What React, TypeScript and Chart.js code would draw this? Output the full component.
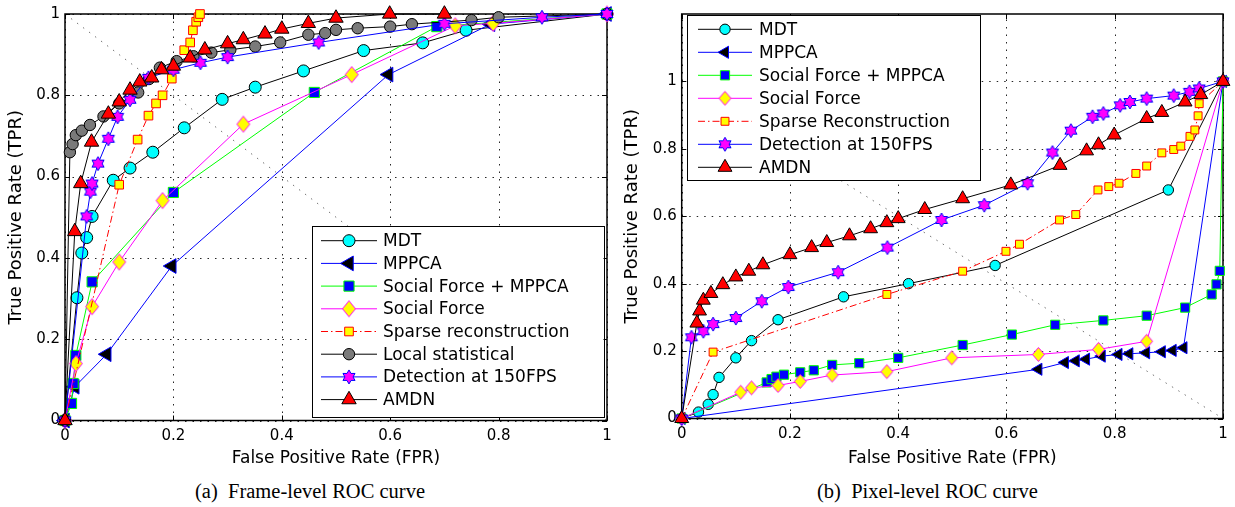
import React, { useEffect, useRef } from 'react';
import { Chart, registerables } from 'chart.js';
import { drawPoint } from 'chart.js/helpers';

Chart.register(...registerables);

// ---------------- Frame-level ROC (a) ----------------
const frameMdtFpr = [0, 0.022, 0.031, 0.04, 0.05, 0.089, 0.12, 0.162, 0.22, 0.29, 0.351, 0.44, 0.551, 0.66, 0.74, 1];
const frameMdtTpr = [0, 0.302, 0.412, 0.45, 0.502, 0.591, 0.621, 0.66, 0.72, 0.79, 0.82, 0.86, 0.91, 0.929, 0.96, 1];
const frameMppcaFpr = [0, 0.018, 0.077, 0.197, 0.597, 0.785, 1];
const frameMppcaTpr = [0, 0.083, 0.163, 0.38, 0.851, 0.975, 1];
const frameSfMppcaFpr = [0, 0.012, 0.015, 0.02, 0.05, 0.2, 0.46, 0.686, 1];
const frameSfMppcaTpr = [0, 0.042, 0.091, 0.16, 0.341, 0.561, 0.807, 0.969, 1];
const frameSfFpr = [0, 0.02, 0.05, 0.1, 0.18, 0.329, 0.529, 0.72, 0.79, 1];
const frameSfTpr = [0, 0.14, 0.28, 0.39, 0.541, 0.729, 0.851, 0.971, 0.977, 1];
const frameSparseFpr = [0, 0.1, 0.134, 0.154, 0.168, 0.18, 0.197, 0.22, 0.231, 0.236, 0.242, 0.246, 0.249];
const frameSparseTpr = [0, 0.58, 0.691, 0.75, 0.78, 0.8, 0.841, 0.911, 0.93, 0.96, 0.981, 0.992, 1];
const frameLocalFpr = [0, 0.009, 0.014, 0.02, 0.031, 0.046, 0.071, 0.1, 0.135, 0.155, 0.175, 0.206, 0.237, 0.27, 0.305, 0.351, 0.397, 0.449, 0.48, 0.5, 0.54, 0.6, 0.64, 0.75, 0.8, 1];
const frameLocalTpr = [0, 0.66, 0.68, 0.702, 0.713, 0.727, 0.748, 0.78, 0.807, 0.84, 0.868, 0.884, 0.896, 0.905, 0.912, 0.92, 0.93, 0.949, 0.953, 0.961, 0.965, 0.969, 0.975, 0.985, 0.992, 1];
const frameDetFpr = [0, 0.04, 0.047, 0.05, 0.061, 0.08, 0.097, 0.12, 0.154, 0.2, 0.25, 0.3, 0.468, 0.7, 0.88, 1];
const frameDetTpr = [0, 0.502, 0.563, 0.583, 0.632, 0.693, 0.747, 0.789, 0.843, 0.863, 0.88, 0.894, 0.93, 0.976, 0.992, 1];
const frameAmdnFpr = [0, 0.018, 0.029, 0.049, 0.08, 0.1, 0.12, 0.138, 0.16, 0.178, 0.2, 0.231, 0.258, 0.3, 0.329, 0.369, 0.4, 0.449, 0.5, 0.599, 0.7];
const frameAmdnTpr = [0, 0.465, 0.583, 0.685, 0.754, 0.784, 0.813, 0.833, 0.843, 0.863, 0.872, 0.892, 0.912, 0.927, 0.937, 0.951, 0.963, 0.977, 0.99, 1, 1];

// ---------------- Pixel-level ROC (b) ----------------
const pixelMdtFpr = [0, 0.031, 0.049, 0.058, 0.069, 0.1, 0.129, 0.178, 0.299, 0.419, 0.579, 0.899, 1];
const pixelMdtTpr = [0, 0.019, 0.042, 0.071, 0.122, 0.18, 0.231, 0.293, 0.361, 0.4, 0.454, 0.678, 1];
const pixelMppcaFpr = [0, 0.659, 0.708, 0.728, 0.747, 0.776, 0.807, 0.827, 0.858, 0.887, 0.907, 0.927, 1];
const pixelMppcaTpr = [0, 0.146, 0.166, 0.171, 0.176, 0.185, 0.19, 0.192, 0.195, 0.198, 0.202, 0.21, 1];
const pixelSfMppcaFpr = [0, 0.157, 0.166, 0.175, 0.189, 0.219, 0.244, 0.278, 0.328, 0.4, 0.519, 0.61, 0.69, 0.779, 0.859, 0.93, 0.979, 0.988, 0.994, 1];
const pixelSfMppcaTpr = [0, 0.107, 0.117, 0.124, 0.13, 0.137, 0.143, 0.159, 0.164, 0.18, 0.218, 0.249, 0.278, 0.291, 0.305, 0.329, 0.368, 0.398, 0.438, 1];
const pixelSfFpr = [0, 0.109, 0.129, 0.178, 0.219, 0.278, 0.379, 0.499, 0.659, 0.77, 0.859, 1];
const pixelSfTpr = [0, 0.078, 0.091, 0.098, 0.11, 0.129, 0.139, 0.18, 0.19, 0.205, 0.229, 1];
const pixelSparseFpr = [0, 0.058, 0.379, 0.519, 0.599, 0.624, 0.698, 0.728, 0.769, 0.789, 0.808, 0.839, 0.859, 0.887, 0.909, 0.922, 0.939, 0.948, 0.954, 0.956, 1];
const pixelSparseTpr = [0, 0.197, 0.368, 0.437, 0.496, 0.517, 0.589, 0.605, 0.678, 0.688, 0.698, 0.727, 0.749, 0.788, 0.798, 0.808, 0.837, 0.856, 0.898, 0.934, 1];
const pixelDetFpr = [0, 0.018, 0.04, 0.058, 0.1, 0.148, 0.197, 0.289, 0.38, 0.48, 0.559, 0.639, 0.685, 0.719, 0.759, 0.779, 0.81, 0.828, 0.859, 0.909, 0.938, 0.956, 1];
const pixelDetTpr = [0, 0.241, 0.259, 0.28, 0.298, 0.348, 0.39, 0.434, 0.507, 0.589, 0.633, 0.698, 0.789, 0.854, 0.895, 0.905, 0.929, 0.939, 0.949, 0.958, 0.969, 0.979, 1];
const pixelAmdnFpr = [0, 0.028, 0.033, 0.04, 0.054, 0.076, 0.1, 0.124, 0.15, 0.2, 0.24, 0.268, 0.31, 0.349, 0.379, 0.4, 0.449, 0.519, 0.608, 0.699, 0.748, 0.77, 0.799, 0.859, 0.887, 0.93, 0.959, 1];
const pixelAmdnTpr = [0, 0.283, 0.319, 0.351, 0.371, 0.397, 0.42, 0.437, 0.456, 0.486, 0.507, 0.522, 0.542, 0.563, 0.581, 0.593, 0.62, 0.652, 0.693, 0.751, 0.794, 0.812, 0.841, 0.89, 0.908, 0.939, 0.961, 1];

// ---------------- Ticks ----------------
const fprTickValues = [0, 0.2, 0.4, 0.6, 0.8, 1];
const fprTickLabels = ['0', '0.2', '0.4', '0.6', '0.8', '1'];
const tprTickValues = [0, 0.2, 0.4, 0.6, 0.8, 1];
const tprTickLabels = ['0', '0.2', '0.4', '0.6', '0.8', '1'];

const FONT = 'DejaVu Sans';
const TICK_FONT = { family: FONT, size: 15 };
const XTITLE_FONT = { family: FONT, size: 17 };
const YTITLE_FONT = { family: FONT, size: 18 };
const LEGEND_FONT = `17px "${FONT}"`;
const GRID_COLOR = 'rgba(0,0,0,0.85)';
const GRID_DASH = [1.5, 6];

type Series = {
  label: string; fpr: number[]; tpr: number[];
  line: string; dash?: number[];
  marker: any; radius: number; rotation?: number;
  fill: string; edge: string;
};

type LegendBox = {
  x: number; y: number; w: number; h: number;
  firstRow: number; rowGap: number;
  lineX1: number; lineX2: number; markerX: number; textX: number;
};

function makeHexagram(R: number, fill: string, stroke: string) {
  const size = Math.ceil(R * 2 + 4);
  const c = document.createElement('canvas');
  c.width = size; c.height = size;
  const g = c.getContext('2d')!;
  const cx = size / 2, cy = size / 2, r = R / Math.sqrt(3);
  g.beginPath();
  for (let k = 0; k < 12; k++) {
    const ang = -Math.PI / 2 + (k * Math.PI) / 6;
    const rad = k % 2 === 0 ? R : r;
    const px = cx + rad * Math.cos(ang), py = cy + rad * Math.sin(ang);
    if (k === 0) g.moveTo(px, py); else g.lineTo(px, py);
  }
  g.closePath();
  g.fillStyle = fill; g.fill();
  g.strokeStyle = stroke; g.lineWidth = 1; g.stroke();
  return c;
}

function makeDiamond(hw: number, hh: number, fill: string, stroke: string) {
  const w = Math.ceil(hw * 2 + 3), h = Math.ceil(hh * 2 + 3);
  const c = document.createElement('canvas');
  c.width = w; c.height = h;
  const g = c.getContext('2d')!;
  const cx = w / 2, cy = h / 2;
  g.beginPath();
  g.moveTo(cx, cy - hh); g.lineTo(cx + hw, cy); g.lineTo(cx, cy + hh); g.lineTo(cx - hw, cy);
  g.closePath();
  g.fillStyle = fill; g.fill();
  g.strokeStyle = stroke; g.lineWidth = 1; g.stroke();
  return c;
}

const toPoints = (fpr: number[], tpr: number[]) => fpr.map((x, i) => ({ x, y: tpr[i] }));

function makeLegendPlugin(series: Series[], box: LegendBox) {
  return {
    id: 'rocLegend',
    afterDatasetsDraw(chart: any) {
      const ctx = chart.ctx as CanvasRenderingContext2D;
      ctx.save();
      ctx.fillStyle = '#fff';
      ctx.fillRect(box.x, box.y, box.w, box.h);
      ctx.strokeStyle = '#000';
      ctx.lineWidth = 1;
      ctx.setLineDash([]);
      ctx.strokeRect(Math.round(box.x) + 0.5, Math.round(box.y) + 0.5, Math.round(box.w), Math.round(box.h));
      series.forEach((s, i) => {
        const cy = box.firstRow + i * box.rowGap;
        ctx.beginPath();
        ctx.setLineDash(s.dash || []);
        ctx.strokeStyle = s.line;
        ctx.lineWidth = 1;
        ctx.moveTo(box.lineX1, cy);
        ctx.lineTo(box.lineX2, cy);
        ctx.stroke();
        ctx.setLineDash([]);
        ctx.fillStyle = s.fill;
        ctx.strokeStyle = s.edge;
        ctx.lineWidth = 1;
        drawPoint(ctx, { pointStyle: s.marker, radius: s.radius, rotation: s.rotation || 0, borderWidth: 1 } as any, box.markerX, cy);
        ctx.fillStyle = '#000';
        ctx.font = LEGEND_FONT;
        ctx.textBaseline = 'middle';
        ctx.textAlign = 'left';
        ctx.fillText(s.label, box.textX, cy + 1);
      });
      ctx.restore();
    },
  };
}

const framePlugin = {
  id: 'rocFrame',
  beforeDatasetsDraw(chart: any) {
    const { ctx, chartArea: a, scales } = chart;
    const xs = scales.x, ys = scales.y;
    ctx.save();
    // dotted grid
    ctx.strokeStyle = GRID_COLOR;
    ctx.lineWidth = 1;
    ctx.setLineDash(GRID_DASH);
    xs.ticks.forEach((t: any) => {
      const p = Math.round(xs.getPixelForValue(t.value)) + 0.5;
      ctx.beginPath();
      ctx.moveTo(p, a.bottom); ctx.lineTo(p, a.top);
      ctx.stroke();
    });
    ys.ticks.forEach((t: any) => {
      const p = Math.round(ys.getPixelForValue(t.value)) + 0.5;
      ctx.beginPath();
      ctx.moveTo(a.left, p); ctx.lineTo(a.right, p);
      ctx.stroke();
    });
    // inner tick marks
    ctx.setLineDash([]);
    ctx.strokeStyle = '#000';
    ctx.beginPath();
    xs.ticks.forEach((t: any) => {
      const p = Math.round(xs.getPixelForValue(t.value)) + 0.5;
      ctx.moveTo(p, a.bottom); ctx.lineTo(p, a.bottom - 5);
      ctx.moveTo(p, a.top); ctx.lineTo(p, a.top + 5);
    });
    ys.ticks.forEach((t: any) => {
      const p = Math.round(ys.getPixelForValue(t.value)) + 0.5;
      ctx.moveTo(a.left, p); ctx.lineTo(a.left + 5, p);
      ctx.moveTo(a.right, p); ctx.lineTo(a.right - 5, p);
    });
    ctx.stroke();
    ctx.lineWidth = 1.5;
    ctx.strokeRect(a.left, a.top, a.right - a.left, a.bottom - a.top);
    ctx.restore();
  },
};

function rocConfig(p: {
  series: Series[]; legend: LegendBox; yMax: number;
  padTop: number; padRight: number; yAxisWidth: number; xAxisHeight: number; yTitlePad: number;
}): any {
  const n = p.series.length;
  const datasets: any[] = p.series.map((s, i) => ({
    label: s.label,
    data: toPoints(s.fpr, s.tpr),
    showLine: true,
    borderColor: s.line,
    borderWidth: 1,
    borderDash: s.dash || [],
    pointStyle: s.marker,
    pointRadius: s.radius,
    pointHoverRadius: s.radius,
    pointRotation: s.rotation || 0,
    pointBackgroundColor: s.fill,
    pointBorderColor: s.edge,
    pointBorderWidth: 1,
    clip: false,
    order: n - i,
    tension: 0,
    fill: false,
  }));
  datasets.push({
    label: 'diagonal',
    data: [{ x: 0, y: 1 }, { x: 1, y: 0 }],
    showLine: true,
    borderColor: 'rgba(0,0,0,0.55)',
    borderWidth: 1,
    borderDash: [1.5, 6],
    pointRadius: 0,
    order: 100,
  });
  return {
    type: 'scatter',
    data: { datasets },
    plugins: [framePlugin, makeLegendPlugin(p.series, p.legend)],
    options: {
      animation: false,
      responsive: false,
      maintainAspectRatio: false,
      events: [],
      layout: { padding: { top: p.padTop, right: p.padRight, left: 0, bottom: 0 } },
      plugins: { legend: { display: false }, tooltip: { enabled: false } },
      scales: {
        x: {
          type: 'linear', min: 0, max: 1,
          afterBuildTicks: (s: any) => { s.ticks = fprTickValues.map((v) => ({ value: v })); },
          afterFit: (s: any) => { s.height = p.xAxisHeight; },
          grid: { display: false, drawTicks: false },
          border: { display: false },
          ticks: {
            autoSkip: false, maxRotation: 0, padding: 7, color: '#000', font: TICK_FONT,
            callback: (_v: any, i: number) => fprTickLabels[i],
          },
          title: { display: true, text: 'False Positive Rate (FPR)', color: '#000', font: XTITLE_FONT, padding: { top: 0, bottom: 1.5 } },
        },
        y: {
          type: 'linear', min: 0, max: p.yMax,
          afterBuildTicks: (s: any) => { s.ticks = tprTickValues.map((v) => ({ value: v })); },
          afterFit: (s: any) => { s.width = p.yAxisWidth; },
          grid: { display: false, drawTicks: false },
          border: { display: false },
          ticks: {
            autoSkip: false, padding: 5, color: '#000', font: TICK_FONT,
            callback: (_v: any, i: number) => tprTickLabels[i],
          },
          title: { display: true, text: 'True Positive Rate (TPR)', color: '#000', font: YTITLE_FONT, padding: { top: p.yTitlePad, bottom: 0 } },
        },
      },
    },
  };
}

function frameSeries(): Series[] {
  return [
    { label: 'MDT', fpr: frameMdtFpr, tpr: frameMdtTpr, line: '#000', marker: 'circle', radius: 6, fill: '#00ffff', edge: '#000' },
    { label: 'MPPCA', fpr: frameMppcaFpr, tpr: frameMppcaTpr, line: '#0000ff', marker: 'triangle', rotation: 270, radius: 8.5, fill: '#000', edge: '#0000ff' },
    { label: 'Social Force + MPPCA', fpr: frameSfMppcaFpr, tpr: frameSfMppcaTpr, line: '#00ff00', marker: 'rect', radius: 7.2, fill: '#0000ff', edge: '#00ff00' },
    { label: 'Social Force', fpr: frameSfFpr, tpr: frameSfTpr, line: '#ff00ff', marker: makeDiamond(6.5, 8, '#ffff00', '#ff00ff'), radius: 7, fill: '#ffff00', edge: '#ff00ff' },
    { label: 'Sparse reconstruction', fpr: frameSparseFpr, tpr: frameSparseTpr, line: '#ff0000', dash: [7, 3, 1.5, 3], marker: 'rect', radius: 6.1, fill: '#ffff00', edge: '#ff0000' },
    { label: 'Local statistical', fpr: frameLocalFpr, tpr: frameLocalTpr, line: '#000', marker: 'circle', radius: 5.7, fill: '#7a7a7a', edge: '#000' },
    { label: 'Detection at 150FPS', fpr: frameDetFpr, tpr: frameDetTpr, line: '#0000ff', marker: makeHexagram(7, '#ff00ff', '#0000ff'), radius: 7, fill: '#ff00ff', edge: '#0000ff' },
    { label: 'AMDN', fpr: frameAmdnFpr, tpr: frameAmdnTpr, line: '#000', marker: 'triangle', radius: 8.3, fill: '#ff0000', edge: '#000' },
  ];
}

function pixelSeries(): Series[] {
  return [
    { label: 'MDT', fpr: pixelMdtFpr, tpr: pixelMdtTpr, line: '#000', marker: 'circle', radius: 5.2, fill: '#00ffff', edge: '#000' },
    { label: 'MPPCA', fpr: pixelMppcaFpr, tpr: pixelMppcaTpr, line: '#0000ff', marker: 'triangle', rotation: 270, radius: 7, fill: '#000', edge: '#0000ff' },
    { label: 'Social Force + MPPCA', fpr: pixelSfMppcaFpr, tpr: pixelSfMppcaTpr, line: '#00ff00', marker: 'rect', radius: 6.5, fill: '#0000ff', edge: '#00ff00' },
    { label: 'Social Force', fpr: pixelSfFpr, tpr: pixelSfTpr, line: '#ff00ff', marker: makeDiamond(6, 7, '#ffff00', '#ff00ff'), radius: 6.5, fill: '#ffff00', edge: '#ff00ff' },
    { label: 'Sparse Reconstruction', fpr: pixelSparseFpr, tpr: pixelSparseTpr, line: '#ff0000', dash: [7, 3, 1.5, 3], marker: 'rect', radius: 5.6, fill: '#ffff00', edge: '#ff0000' },
    { label: 'Detection at 150FPS', fpr: pixelDetFpr, tpr: pixelDetTpr, line: '#0000ff', marker: makeHexagram(7, '#ff00ff', '#0000ff'), radius: 7, fill: '#ff00ff', edge: '#0000ff' },
    { label: 'AMDN', fpr: pixelAmdnFpr, tpr: pixelAmdnTpr, line: '#000', marker: 'triangle', radius: 8, fill: '#ff0000', edge: '#000' },
  ];
}

const captionStyle = (left: number, width: number): React.CSSProperties => ({
  position: 'absolute', left, top: 479, width, textAlign: 'center',
  fontFamily: '"Liberation Serif", "Times New Roman", serif', fontSize: 20.5, lineHeight: '24px',
  whiteSpace: 'pre', color: '#000',
});

export default function App() {
  const leftRef = useRef<HTMLCanvasElement>(null);
  const rightRef = useRef<HTMLCanvasElement>(null);

  useEffect(() => {
    const c1 = new Chart(leftRef.current!, rocConfig({
      series: frameSeries(),
      legend: { x: 311.5, y: 226, w: 292, h: 191, firstRow: 240.7, rowGap: 22.7, lineX1: 321, lineX2: 377, markerX: 349, textX: 383 },
      yMax: 1, padTop: 11, padRight: 13, yAxisWidth: 65, xAxisHeight: 49.5, yTitlePad: 6,
    }));
    const c2 = new Chart(rightRef.current!, rocConfig({
      series: pixelSeries(),
      legend: { x: 66.5, y: 15, w: 292.5, h: 165, firstRow: 29.3, rowGap: 23, lineX1: 78, lineX2: 132, markerX: 105, textX: 139 },
      yMax: 1.2, padTop: 9, padRight: 12, yAxisWidth: 61.7, xAxisHeight: 51.5, yTitlePad: 2,
    }));
    return () => { c1.destroy(); c2.destroy(); };
  }, []);

  return (
    <div style={{ position: 'absolute', left: 0, top: 0, width: 1235, height: 507, background: '#fff', overflow: 'hidden' }}>
      <canvas ref={leftRef} width={620} height={470} style={{ position: 'absolute', left: 0, top: 0 }} />
      <canvas ref={rightRef} width={615} height={470} style={{ position: 'absolute', left: 620, top: 0 }} />
      <div style={captionStyle(0, 620)}>{'(a)  Frame-level ROC curve'}</div>
      <div style={captionStyle(620, 615)}>{'(b)  Pixel-level ROC curve'}</div>
    </div>
  );
}
